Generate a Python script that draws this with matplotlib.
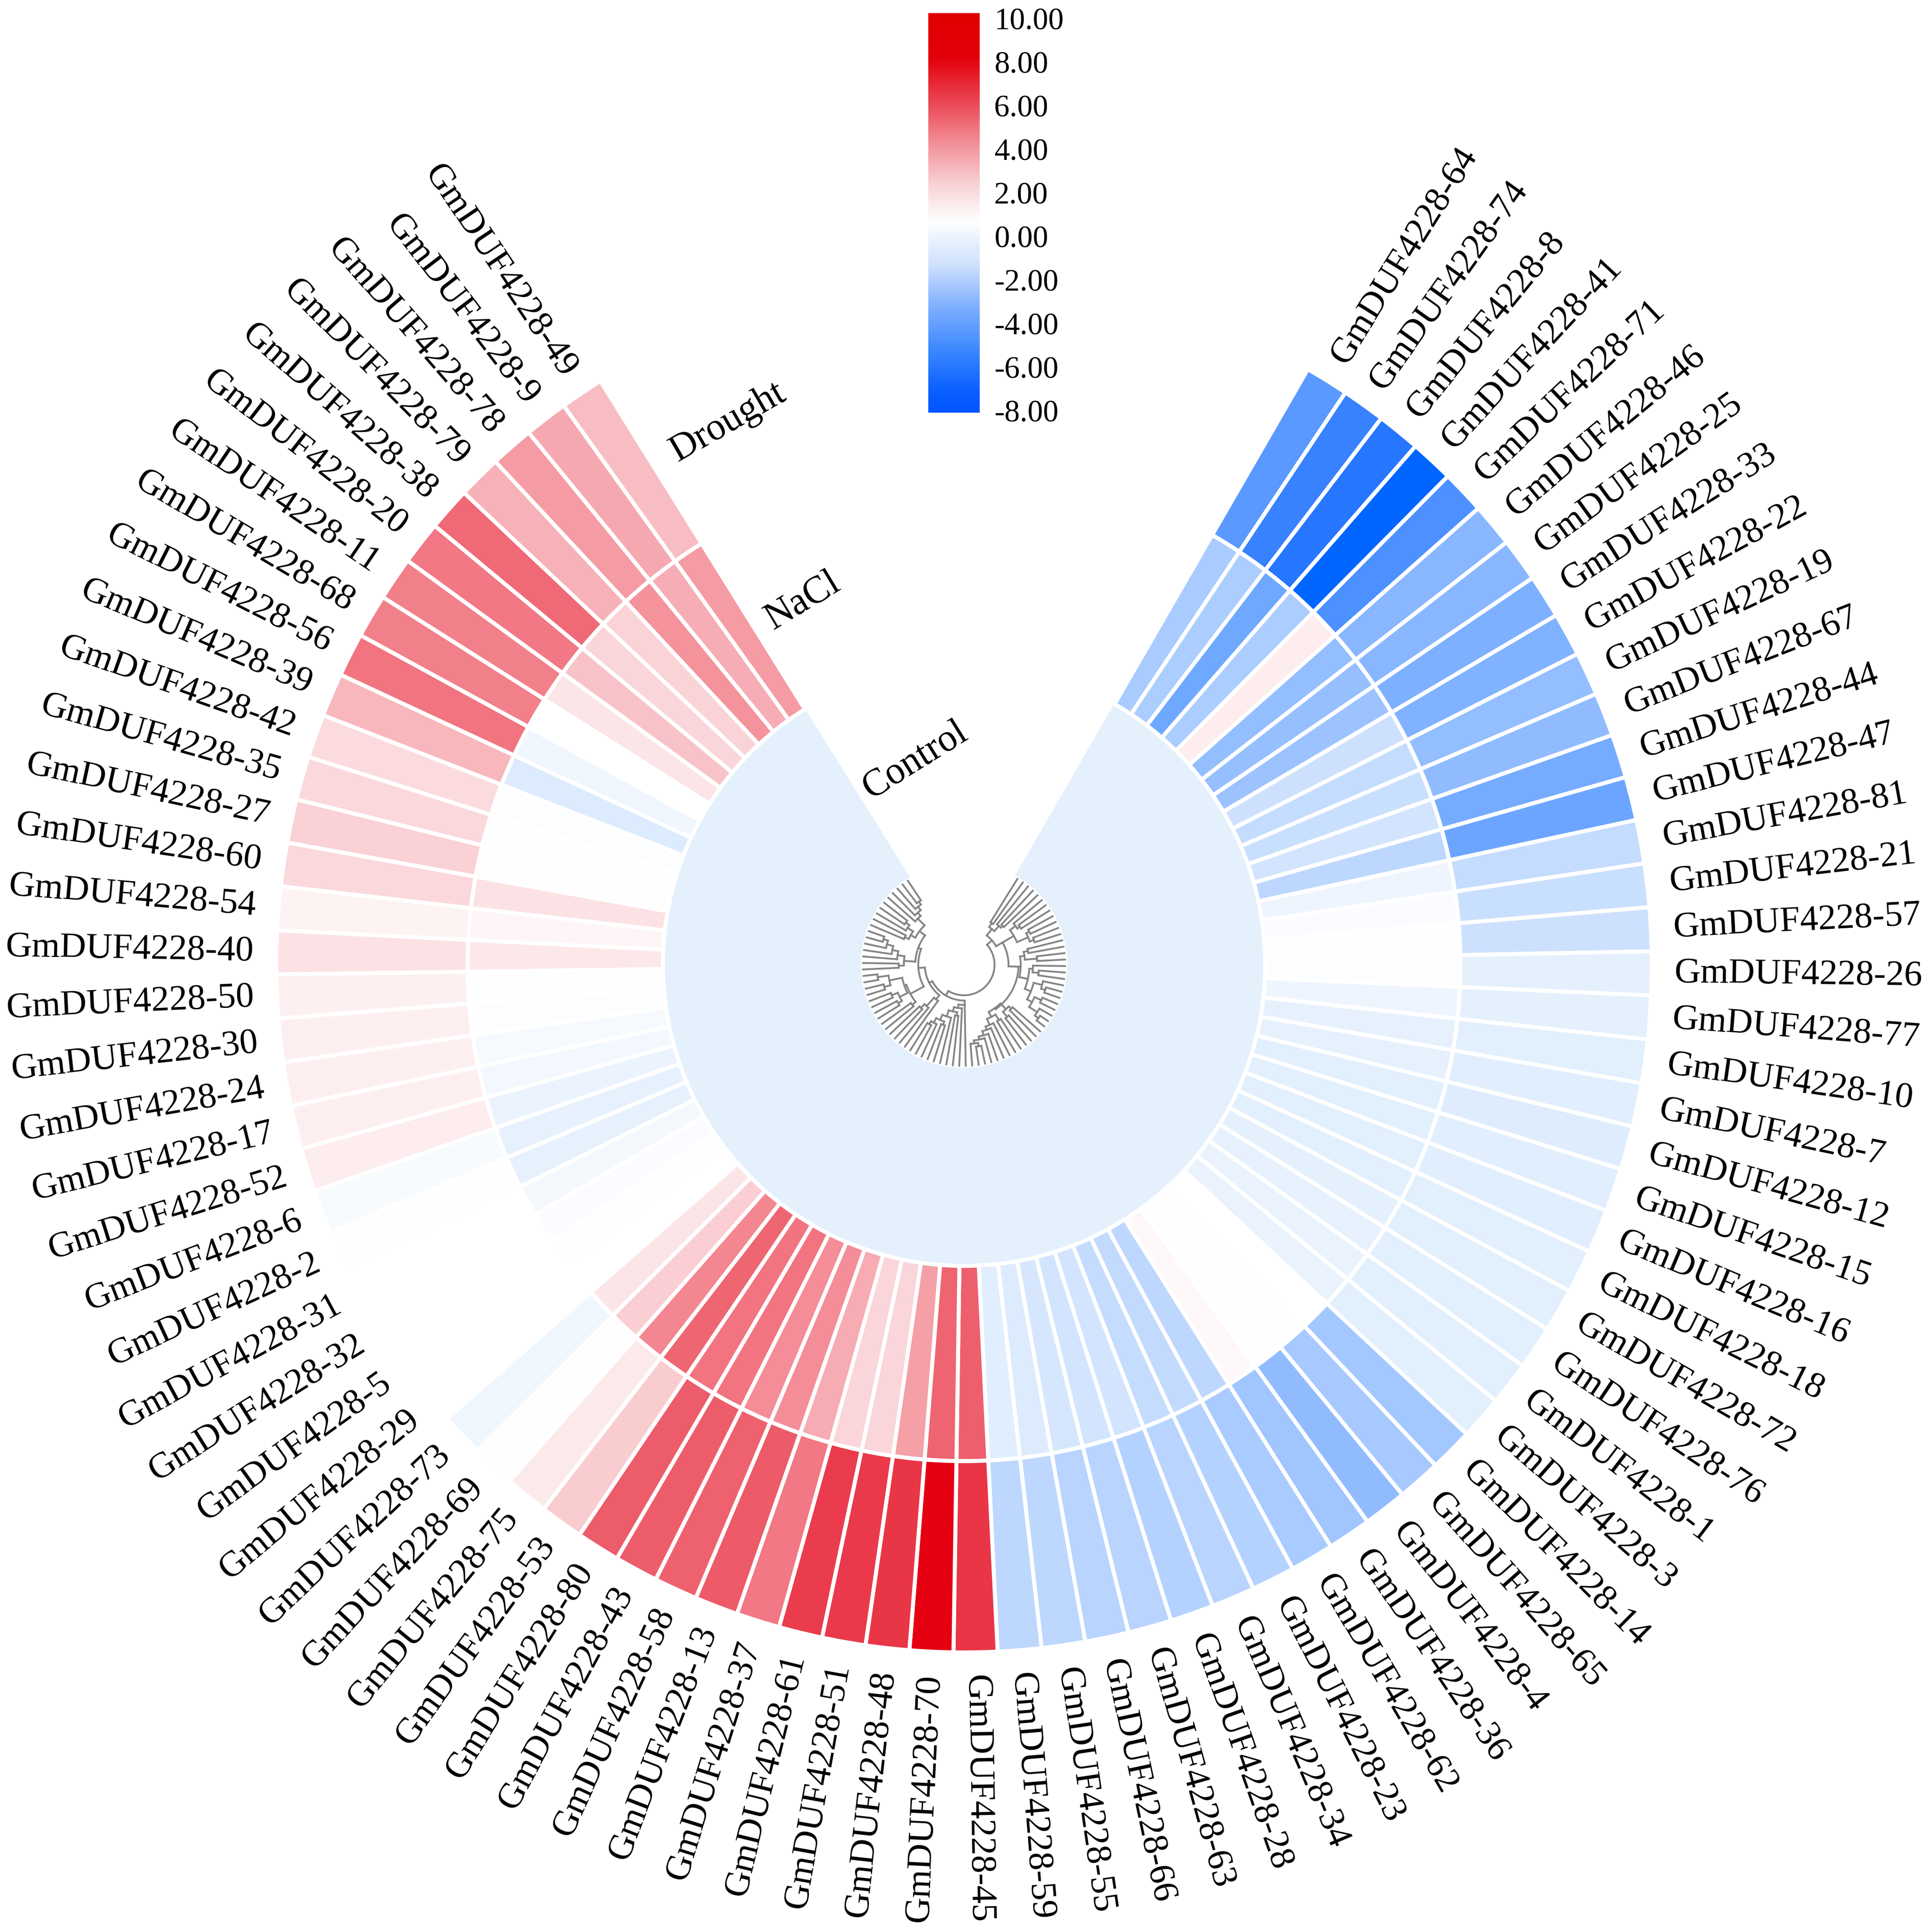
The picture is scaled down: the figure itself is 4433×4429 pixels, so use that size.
import numpy as np
import matplotlib
matplotlib.use('Agg')
import matplotlib.pyplot as plt
from matplotlib.colors import LinearSegmentedColormap, Normalize

plt.rcParams['font.family'] = ['Liberation Serif', 'DejaVu Serif']

# genes clockwise, starting at the upper right edge of the fan
genes = [64, 74, 8, 41, 71, 46, 25, 33, 22, 19, 67, 44, 47, 81, 21, 57, 26, 77, 10, 7,
         12, 15, 16, 18, 72, 76, 1, 3, 14, 65, 4, 36, 62, 23, 34, 28, 63, 66, 55, 59,
         45, 70, 48, 51, 61, 37, 13, 58, 43, 80, 53, 75, 69, 73, 29, 5, 32, 31, 2, 6,
         52, 17, 24, 30, 50, 40, 54, 60, 27, 35, 42, 39, 56, 68, 11, 20, 38, 79, 78, 9, 49]

control = [-0.75] * 81

nacl = [-2.2, -2.1, -4.0, -2.1, 0.6, -2.9, -2.8, -2.6, -1.3, -1.5, -1.4, -1.2, -1.7, -0.5, -0.15, -0.05, -0.1, -0.5, -0.7, -0.7,
        -0.8, -0.8, -0.8, -0.8, -0.75, -0.7, -0.6, -0.6, 0.0, 0.05, 0.05, 0.2, -1.7, -1.6, -1.5, -1.2, -1.2, -1.1, -0.95, -0.85,
        5.8, 5.6, 3.4, 1.5, 1.5, 3.0, 4.0, 4.0, 5.0, 5.0, 5.5, 4.3, 1.8, 0.9, 0.0, -0.05, -0.15, -0.3, -0.7, -0.7,
        -0.55, -0.35, -0.25, -0.1, -0.05, 0.8, 0.3, 1.0, -0.05, -0.05, -0.1, -0.95, -0.45, 0.0, 0.9, 2.2, 1.5, 1.6, 3.8, 2.9, 3.5]

drought = [-4.6, -5.6, -6.1, -7.0, -5.0, -3.2, -3.2, -3.6, -3.5, -2.9, -3.0, -3.8, -4.1, -1.5, -1.4, -1.3, -0.75, -0.75, -0.8, -0.85,
           -0.9, -0.85, -0.85, -0.8, -0.8, -0.8, -0.8, -0.8, -2.4, -2.3, -3.0, -2.5, -2.2, -1.9, -1.8, -1.9, -1.8, -1.8, -1.7, -1.7,
           7.5, 9.0, 7.4, 7.3, 7.2, 4.8, 6.0, 5.7, 5.9, 5.9, 1.9, 0.7, 0.05, -0.45, 0.0, 0.0, 0.0, 0.0, -0.05, -0.2,
           0.6, 0.5, 0.5, 0.5, 0.45, 1.0, 0.4, 1.4, 1.7, 1.4, 1.3, 2.6, 5.0, 4.5, 4.5, 4.8, 5.4, 2.8, 3.5, 3.1, 2.4]

legend_ticks = [10, 8, 6, 4, 2, 0, -2, -4, -6, -8]

# tree: [radius, child, child, (stub on first child)], leaves are positions in genes
c1 = [104, [115, 1, 2], [120, 3, [126, 4, 5]]]
c2 = [132, [148, 6, [155, 7, 8]], [160, [168, 9, 10], [170, 11, 12]]]
c3 = [140, [150, 13, 14], [168, 15, 16]]
c4 = [150, [158, 17, [172, 18, 19]], [165, [185, 20, [195, 21, 22]], [178, [195, 23, 24], [200, 25, [210, 26, 27]]]]]
low = [122, [140, [148, 28, 29], [155, 30, 31]],
       [135, [150, 32, 33], [150, 34, [158, 35, [168, 36, [175, 37, [182, [190, 38, 39], 40]]]]]]]
bottom = [92, 41, [100, 42, [110, [118, 43, 44], [125, 45, [138, [146, 46, 47], [150, 48, [158, 49, 50]]]]]], 0]
z1 = [102, 51, [128, 52, [140, 53, 54]]]
mid = [140, [150, 55, 56], [145, [165, [175, 57, 58], [180, 59, 60]], [175, [190, 61, 62], [200, 63, 64]]]]
up1 = [138, [150, 65, 66], [154, 67, [168, 68, [183, 69, [194, 70, 71]]]]]
up2 = [128, [140, [150, 72, 73], [155, 74, [165, 75, 76]]], [150, 77, [160, 78, [170, 79, [178, 80, 81]]]]]
tree = [70,
        [85, c1, [102, c2, [125, [130, c3, c4], low, 0], 0]],
        [82, bottom, [90, z1, [105, mid, [112, up1, up2]]]]]

colors = [(-8, '#0050ff'), (-7, '#0066ff'), (-6, '#2a78ff'), (-4, '#70a8ff'), (-2, '#b0cfff'), (-0.8, '#e3effd'), (0, '#ffffff'),
          (0.5, '#fdeff0'), (2, '#f9c9ce'), (4, '#f48d97'), (6, '#ed5a68'), (8, '#e8283a'), (9, '#e50012'), (10, '#e00000')]
norm = Normalize(-8, 10)
cmap = LinearSegmentedColormap.from_list('expr', [(norm(v), c) for v, c in colors], N=512)

W, H = 4433, 4429
fig = plt.figure(figsize=(W / 300, H / 300), dpi=300)
ax = fig.add_axes([0, 3 / H, 4424 / W, 4424 / H], projection='polar')
ax.set_theta_zero_location('N')
ax.set_theta_direction(-1)
ax.set_ylim(0, 2212)
ax.set_axis_off()

start, step = 30.0, 3.68
theta = np.deg2rad(start + (np.arange(len(genes)) + 0.5) * step)
width = np.deg2rad(step)

# the three rings, radii in pixels
ax.bar(theta, 691 - 238, width, bottom=238, color=cmap(norm(control)), edgecolor=cmap(norm(control)), linewidth=0.5)
ax.bar(theta, 1139 - 691, width, bottom=691, color=cmap(norm(nacl)), edgecolor='white', linewidth=2.2)
ax.bar(theta, 1578 - 1139, width, bottom=1139, color=cmap(norm(drought)), edgecolor='white', linewidth=2.2)


def draw(node):
    if isinstance(node, int):
        t = theta[node - 1]
        return t, 232.0
    t1, r1 = draw(node[1])
    t2, r2 = draw(node[2])
    r = node[0]
    ax.plot([t1, t1], [r, r1], color='#858585', lw=1.0, solid_capstyle='projecting')
    ax.plot([t2, t2], [r, r2], color='#858585', lw=1.0, solid_capstyle='projecting')
    ax.plot(np.linspace(t1, t2, 40), [r] * 40, color='#858585', lw=1.0, solid_capstyle='projecting')
    t = t1 if len(node) > 3 else (t1 + t2) / 2
    return t, r


draw(tree)

for t, g in zip(theta, genes):
    deg = np.rad2deg(t)
    if deg < 180:
        rot, ha = 90 - deg, 'left'
    else:
        rot, ha = 270 - deg, 'right'
    ax.text(t, 1630, 'GmDUF4228-%d' % g, rotation=rot, rotation_mode='anchor', ha=ha, va='center', fontsize=20)

ax.text(np.deg2rad(-13.5), 483, 'Control', rotation=32, rotation_mode='anchor', ha='center', va='center', fontsize=21)
ax.text(np.deg2rad(-23.9), 913, 'NaCl', rotation=31, rotation_mode='anchor', ha='center', va='center', fontsize=21)
ax.text(np.deg2rad(-23.5), 1357, 'Drought', rotation=30, rotation_mode='anchor', ha='center', va='center', fontsize=21)

# legend gradient, white sits halfway up the bar
bar_stops = [(0.0, '#0055ff'), (0.055, '#0a60ff'), (0.16, '#3f8aff'), (0.265, '#80b0ff'), (0.37, '#cfe0fd'), (0.48, '#ffffff'),
             (0.58, '#f8cdd1'), (0.68, '#f28b94'), (0.79, '#ea3f4c'), (0.89, '#e3000a'), (1.0, '#e00000')]
bar_cmap = LinearSegmentedColormap.from_list('bar', bar_stops, N=512)
cax = fig.add_axes([2130 / W, 1 - 947 / H, 118 / W, 917 / H])
cax.imshow(np.linspace(1, 0, 512)[:, None], cmap=bar_cmap, aspect='auto', extent=[0, 1, -8.1, 10.24])
cax.set_ylim(-8.1, 10.24)
cax.set_xticks([])
cax.yaxis.tick_right()
cax.set_yticks(legend_ticks)
cax.set_yticklabels(['%.2f' % v for v in legend_ticks], fontsize=17)
cax.tick_params(axis='y', length=0, pad=8.0)
for s in cax.spines.values():
    s.set_visible(False)

fig.savefig('out.png', dpi=300, facecolor='white')
